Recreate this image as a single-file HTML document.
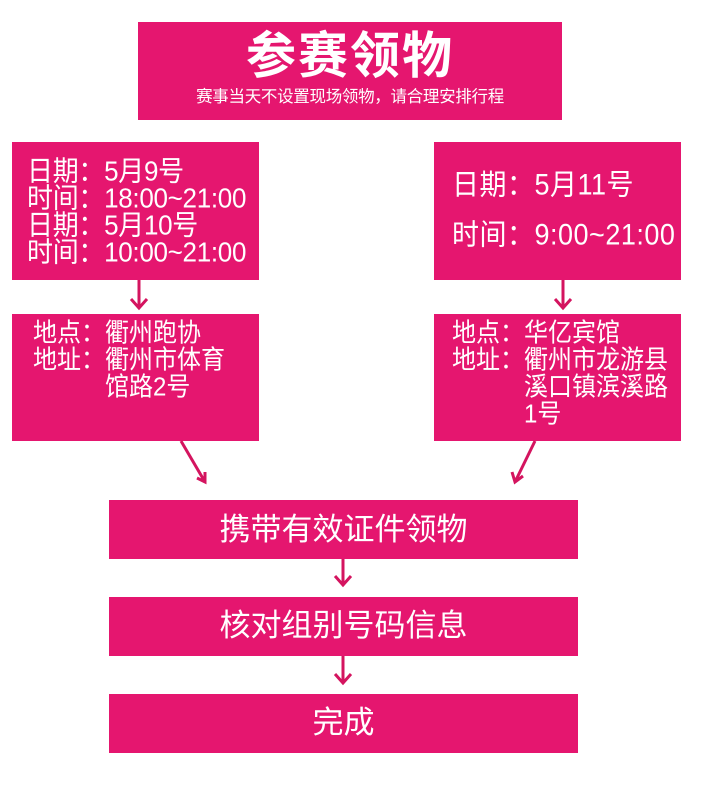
<!DOCTYPE html>
<html><head><meta charset="utf-8">
<style>
body{margin:0;width:702px;height:790px;background:#fff;position:relative;overflow:hidden;font-family:"Liberation Sans","Noto Sans CJK SC",sans-serif;color:#fff}
.b{position:absolute;background:#e5166f}
.t{position:absolute;font-size:24px;line-height:25px;white-space:pre;transform-origin:0 0;transform:scaleY(1.08)}
.c{position:absolute;left:0;right:0;text-align:center}
</style></head><body>
<div class="b" style="left:138px;top:22px;width:424px;height:98px">
<div class="c" style="top:4px;font-size:50px;font-weight:bold;line-height:60px;letter-spacing:2px">参赛领物</div>
<div class="c" style="top:66px;font-size:16.5px;line-height:19px;letter-spacing:-0.3px">赛事当天不设置现场领物，请合理安排行程</div>
</div>
<div class="b" style="left:12px;top:142px;width:247px;height:138px"></div>
<div class="t" style="left:27px;top:158px;font-size:26px;letter-spacing:-0.3px">日期：5月9号
时间：18:00~21:00
日期：5月10号
时间：10:00~21:00</div>
<div class="b" style="left:434px;top:142px;width:247px;height:138px"></div>
<div class="t" style="left:452px;top:172px;font-size:27px;letter-spacing:0.5px">日期：5月11号</div>
<div class="t" style="left:452px;top:222px;font-size:27px;letter-spacing:0.5px">时间：9:00~21:00</div>
<div class="b" style="left:12px;top:314px;width:247px;height:127px"></div>
<div class="t" style="left:33px;top:320px">地点：衢州跑协
地址：衢州市体育
　　　馆路2号</div>
<div class="b" style="left:434px;top:314px;width:247px;height:127px"></div>
<div class="t" style="left:452px;top:320px">地点：华亿宾馆
地址：衢州市龙游县
　　　溪口镇滨溪路
　　　1号</div>
<div class="b" style="left:109px;top:500px;width:469px;height:59px"><div class="c" style="top:12px;font-size:31px;line-height:36px">携带有效证件领物</div></div>
<div class="b" style="left:109px;top:597px;width:469px;height:59px"><div class="c" style="top:11px;font-size:31px;line-height:36px">核对组别号码信息</div></div>
<div class="b" style="left:109px;top:694px;width:469px;height:59px"><div class="c" style="top:11px;font-size:31px;line-height:36px">完成</div></div>
<svg width="702" height="790" style="position:absolute;left:0;top:0" fill="none" stroke="#d4145f" stroke-width="3">
<path d="M139 280V308M131 299L139 308L147 299"/>
<path d="M563 280V308M555 299L563 308L571 299"/>
<path d="M181 441L205 482M197 478L205 482L205 472"/>
<path d="M535 441L515 482M512 472L515 482L523 476"/>
<path d="M343 559V585M335 576L343 585L351 576"/>
<path d="M343 656V683M335 674L343 683L351 674"/>
</svg>
</body></html>
